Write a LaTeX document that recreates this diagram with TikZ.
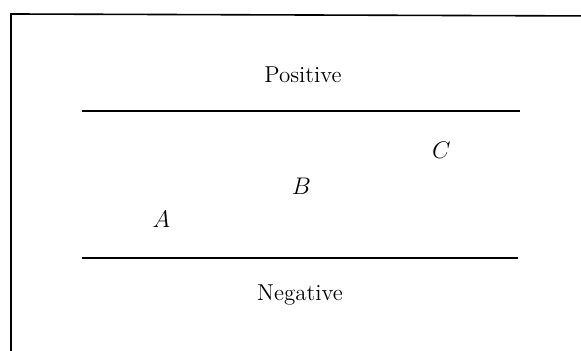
\documentclass[tikz,border=0pt]{standalone}
\usepackage{tikz}

\begin{document}
\begin{tikzpicture}[
  x=0.5pt, y=0.5pt,
  font=\fontsize{11.5}{14}\selectfont,
  lbl/.style={anchor=base, inner sep=0pt},
  pt/.style={anchor=base, inner sep=0pt},
  bar/.style={line width=0.9pt},
  frm/.style={line width=0.8pt}
]
\clip (0,0) rectangle (581,351);
\fill[white] (0,0) rectangle (581,351);
% frame, open to the right and bottom
\coordinate (fb) at (11,-10);
\coordinate (fc) at (11,337);
\coordinate (fr) at (600,335);
\draw[frm] (fb) -- (fc) -- (fr);
% bands
\coordinate (u1) at (82,240);  \coordinate (u2) at (520,240);
\coordinate (l1) at (82,93);   \coordinate (l2) at (518,93);
\draw[bar] (u1) -- (u2);
\draw[bar] (l1) -- (l2);
\node[lbl] (pos) at (303,268) {Positive};
\node[lbl] (neg) at (300,50) {Negative};
\node[pt] (a) at (161.5,123) {$A$};
\node[pt] (b) at (301.5,156) {$B$};
\node[pt] (c) at (441.5,192) {$C$};
\end{tikzpicture}
\end{document}
